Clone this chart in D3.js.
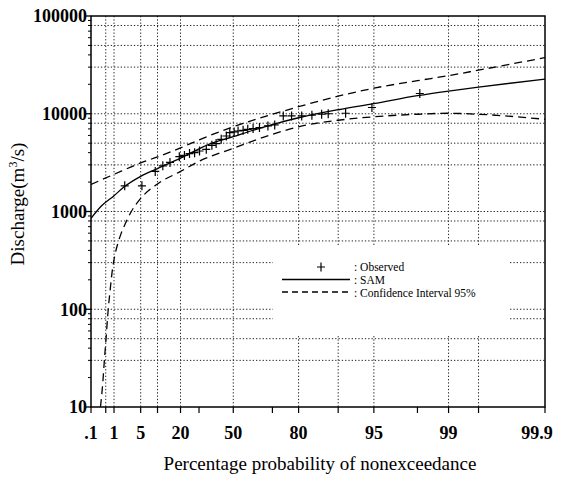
<!DOCTYPE html>
<html>
<head>
<meta charset="utf-8">
<script src="https://cdn.jsdelivr.net/npm/d3@7"></script>
<style>
  body { margin: 0; background: #fff; }
  svg { display: block; }
  text { font-family: "Liberation Serif", "DejaVu Serif", serif; fill: #000; }
</style>
</head>
<body>
<div id="chart"></div>
<script>
// ********** FREQUENCY PLOT (probability paper, log discharge) **********

// Observed flood peaks: plotting position (%) and discharge (m3/s)
const obsProb = [2.1, 5.3, 9.2, 12, 15, 19.4, 22, 24.7, 27.5, 30.3, 34.2, 37.5, 40, 43, 46, 48, 50.5,
	52.7, 55.5, 58, 60.8, 64, 68, 71, 74.5, 77.6, 81, 84, 86.5, 88, 91.3, 94.8, 98.1];
const obsQ = [1830, 1830, 2570, 2930, 3180, 3640, 3750, 3910, 4000, 4160, 4330, 4750, 4950, 5480, 5920, 6420, 6510,
	6660, 6770, 6930, 7050, 7220, 7500, 7680, 9490, 9490, 9490, 9650, 9880, 10000, 10120, 11580, 16120];

// Fitted curve (SAM)
const samProb = [0.1, 0.32, 1, 2, 5, 10, 20, 36, 50, 60, 70, 80, 90, 95, 98, 99, 99.5, 99.9];
const samQ = [850, 1130, 1450, 1780, 2290, 2750, 3510, 4900, 5820, 6700, 7760, 9100, 10990, 12700, 15300, 17060, 18750, 22650];

// 95% confidence interval, upper and lower
const upProb = [0.1, 1, 5, 10, 20, 30, 50, 70, 80, 90, 95, 98, 99, 99.5, 99.9];
const upQ = [1890, 2400, 3140, 3620, 4480, 5400, 7360, 9880, 11800, 15120, 18260, 21800, 24530, 27930, 37530];
const lowProb = [0.30, 0.38, 0.44, 0.52, 0.60, 0.73, 0.90, 1.08, 1.35, 1.66, 2.1, 3.1, 5, 10, 20, 30, 50,
	70, 80, 90, 95, 98, 99, 99.5, 99.9];
const lowQ = [10, 18, 30, 52, 88, 155, 266, 362, 481, 594, 727, 1000, 1360, 1915, 2570, 3260, 4430,
	6160, 7360, 8580, 9320, 9880, 10120, 9880, 8780];

// Axis ticks / grid
const xTickProb = [0.1, 0.5, 1, 5, 10, 20, 30, 50, 70, 80, 90, 95, 98, 99, 99.5, 99.9];
const xLabelProb = [0.1, 1, 5, 20, 50, 80, 95, 99, 99.9];
const xLabels = ['.1', '1', '5', '20', '50', '80', '95', '99', '99.9'];
const xGridProb = [0.5, 1, 5, 10, 20, 50, 80, 90, 95, 99, 99.5];
const yDecades = [10, 100, 1000, 10000, 100000];
const yGridMult = [1, 3, 5, 8];

const width = 566, height = 481;
const margin = { top: 16, left: 91, right: 21, bottom: 74 };
const cs = 0.75; // skew of the probability paper

// Inverse standard normal (Acklam)
const normInv = (p) => {
	const a = [-3.969683028665376e+01, 2.209460984245205e+02, -2.759285104469687e+02, 1.383577518672690e+02, -3.066479806614716e+01, 2.506628277459239e+00];
	const b = [-5.447609879822406e+01, 1.615858368580409e+02, -1.556989798598866e+02, 6.680131188771972e+01, -1.328068155288572e+01];
	const c = [-7.784894002430293e-03, -3.223964580411365e-01, -2.400758277161838e+00, -2.549732539343734e+00, 4.374664141464968e+00, 2.938163982698783e+00];
	const d = [7.784695709041462e-03, 3.224671290700398e-01, 2.445134137142996e+00, 3.754408661907416e+00];
	const pl = 0.02425;
	if (p < pl) {
		const q = Math.sqrt(-2 * Math.log(p));
		return (((((c[0]*q+c[1])*q+c[2])*q+c[3])*q+c[4])*q+c[5]) / ((((d[0]*q+d[1])*q+d[2])*q+d[3])*q+1);
	}
	if (p > 1 - pl) {
		const q = Math.sqrt(-2 * Math.log(1 - p));
		return -(((((c[0]*q+c[1])*q+c[2])*q+c[3])*q+c[4])*q+c[5]) / ((((d[0]*q+d[1])*q+d[2])*q+d[3])*q+1);
	}
	const q = p - 0.5, r = q * q;
	return (((((a[0]*r+a[1])*r+a[2])*r+a[3])*r+a[4])*r+a[5])*q / (((((b[0]*r+b[1])*r+b[2])*r+b[3])*r+b[4])*r+1);
};

// Pearson III frequency factor (Wilson-Hilferty)
const freqFactor = (pct) => {
	const z = normInv(pct / 100);
	return (2 / cs) * (Math.pow(1 + cs * z / 6 - cs * cs / 36, 3) - 1);
};

const xK = d3.scaleLinear()
	.domain([freqFactor(0.1), freqFactor(99.9)])
	.range([margin.left, width - margin.right]);
const x = (p) => xK(freqFactor(p));

const y = d3.scaleLog()
	.domain([10, 100000])
	.range([height - margin.bottom, margin.top]);

const x0 = margin.left, x1 = width - margin.right;
const y0 = height - margin.bottom, y1 = margin.top;

const svg = d3.select('#chart')
	.append('svg')
	.attr('width', width)
	.attr('height', height);

svg.append('defs').append('clipPath')
	.attr('id', 'plot-clip')
	.append('rect')
	.attr('x', x0).attr('y', y1)
	.attr('width', x1 - x0).attr('height', y0 - y1);

// Grid lines (dotted)
const grid = svg.append('g').attr('class', 'grid')
	.attr('stroke', '#222')
	.attr('stroke-width', 1)
	.attr('stroke-dasharray', '1.3,2');

const hGrid = [];
yDecades.slice(0, -1).forEach(dec => yGridMult.forEach(m => {
	if (dec * m > 10) hGrid.push(dec * m);
}));

grid.selectAll('line.h')
	.data(hGrid)
	.enter()
	.append('line')
	.attr('class', 'h')
	.attr('x1', x0).attr('x2', x1)
	.attr('y1', d => y(d)).attr('y2', d => y(d));

grid.selectAll('line.v')
	.data(xGridProb)
	.enter()
	.append('line')
	.attr('class', 'v')
	.attr('x1', d => x(d)).attr('x2', d => x(d))
	.attr('y1', y1).attr('y2', y0);

// Curves
const line = d3.line()
	.x(d => x(d[0]))
	.y(d => y(d[1]))
	.curve(d3.curveMonotoneX);

const curves = svg.append('g')
	.attr('clip-path', 'url(#plot-clip)')
	.attr('fill', 'none')
	.attr('stroke', '#000');

curves.append('path')
	.attr('d', line(samProb.map((p, i) => [p, samQ[i]])))
	.attr('stroke-width', 1.3);

[[upProb, upQ], [lowProb, lowQ]].forEach(([ps, qs]) => {
	curves.append('path')
		.attr('d', line(ps.map((p, i) => [p, qs[i]])))
		.attr('stroke-width', 1.3)
		.attr('stroke-dasharray', '8,5');
});

// Observed points as plus signs
svg.append('g')
	.attr('stroke', '#000')
	.attr('stroke-width', 1.2)
	.selectAll('path')
	.data(obsProb.map((p, i) => [p, obsQ[i]]))
	.enter()
	.append('path')
	.attr('d', 'M-4,0H4M0,-4.5V4.5')
	.attr('transform', d => `translate(${x(d[0])},${y(d[1])})`);

// Legend (white box over the grid)
const legend = svg.append('g').attr('class', 'legend');
legend.append('rect')
	.attr('x', 273).attr('y', 247)
	.attr('width', 236).attr('height', 89)
	.attr('fill', '#fff');
legend.append('path')
	.attr('d', 'M-4,0H4M0,-4.5V4.5')
	.attr('transform', 'translate(321,267)')
	.attr('stroke', '#000').attr('stroke-width', 1.2);
legend.append('line')
	.attr('x1', 282).attr('x2', 350).attr('y1', 279.5).attr('y2', 279.5)
	.attr('stroke', '#000').attr('stroke-width', 1.3);
legend.append('line')
	.attr('x1', 282).attr('x2', 350).attr('y1', 292).attr('y2', 292)
	.attr('stroke', '#000').attr('stroke-width', 1.3)
	.attr('stroke-dasharray', '6,4');
legend.selectAll('text')
	.data([': Observed', ': SAM', ': Confidence Interval 95%'])
	.enter()
	.append('text')
	.attr('x', 354)
	.attr('y', (d, i) => 271 + i * 12.8)
	.attr('font-size', '11.5px')
	.text(d => d);

// Frame
svg.append('rect')
	.attr('x', x0).attr('y', y1)
	.attr('width', x1 - x0).attr('height', y0 - y1)
	.attr('fill', 'none')
	.attr('stroke', '#000')
	.attr('stroke-width', 1.5);

// Y axis ticks and labels
const minorTicks = [];
yDecades.slice(0, -1).forEach(dec => d3.range(2, 10).forEach(m => minorTicks.push(dec * m)));

svg.append('g')
	.attr('stroke', '#000')
	.selectAll('line')
	.data(minorTicks)
	.enter()
	.append('line')
	.attr('x1', x0 - 3).attr('x2', x0)
	.attr('y1', d => y(d)).attr('y2', d => y(d));

svg.append('g')
	.attr('stroke', '#000')
	.attr('stroke-width', 1.3)
	.selectAll('line')
	.data(yDecades)
	.enter()
	.append('line')
	.attr('x1', x0 - 5).attr('x2', x0)
	.attr('y1', d => y(d)).attr('y2', d => y(d));

svg.append('g')
	.selectAll('text')
	.data(yDecades)
	.enter()
	.append('text')
	.attr('x', x0 - 4)
	.attr('y', d => y(d))
	.attr('dy', '0.35em')
	.attr('text-anchor', 'end')
	.attr('font-size', '18px')
	.attr('font-weight', 'bold')
	.text(d => d);

// X axis ticks and labels
svg.append('g')
	.attr('stroke', '#000')
	.attr('stroke-width', 1.2)
	.selectAll('line')
	.data(xTickProb)
	.enter()
	.append('line')
	.attr('x1', d => x(d)).attr('x2', d => x(d))
	.attr('y1', y0).attr('y2', y0 + 6);

svg.append('g')
	.selectAll('text')
	.data(xLabelProb)
	.enter()
	.append('text')
	.attr('x', (d, i) => x(d) - (i === xLabels.length - 1 ? 8 : 0))
	.attr('y', y0 + 32)
	.attr('text-anchor', 'middle')
	.attr('font-size', '18px')
	.attr('font-weight', 'bold')
	.text((d, i) => xLabels[i]);

// Axis titles
svg.append('text')
	.attr('x', 320)
	.attr('y', 470)
	.attr('text-anchor', 'middle')
	.attr('font-size', '19px')
	.text('Percentage probability of nonexceedance');

const yTitle = svg.append('text')
	.attr('transform', 'translate(24,204) rotate(-90)')
	.attr('text-anchor', 'middle')
	.attr('font-size', '19px');
yTitle.append('tspan').text('Discharge(m');
yTitle.append('tspan').attr('font-size', '12px').attr('dy', '-7').text('3');
yTitle.append('tspan').attr('dy', '7').text('/s)');
</script>
</body>
</html>
